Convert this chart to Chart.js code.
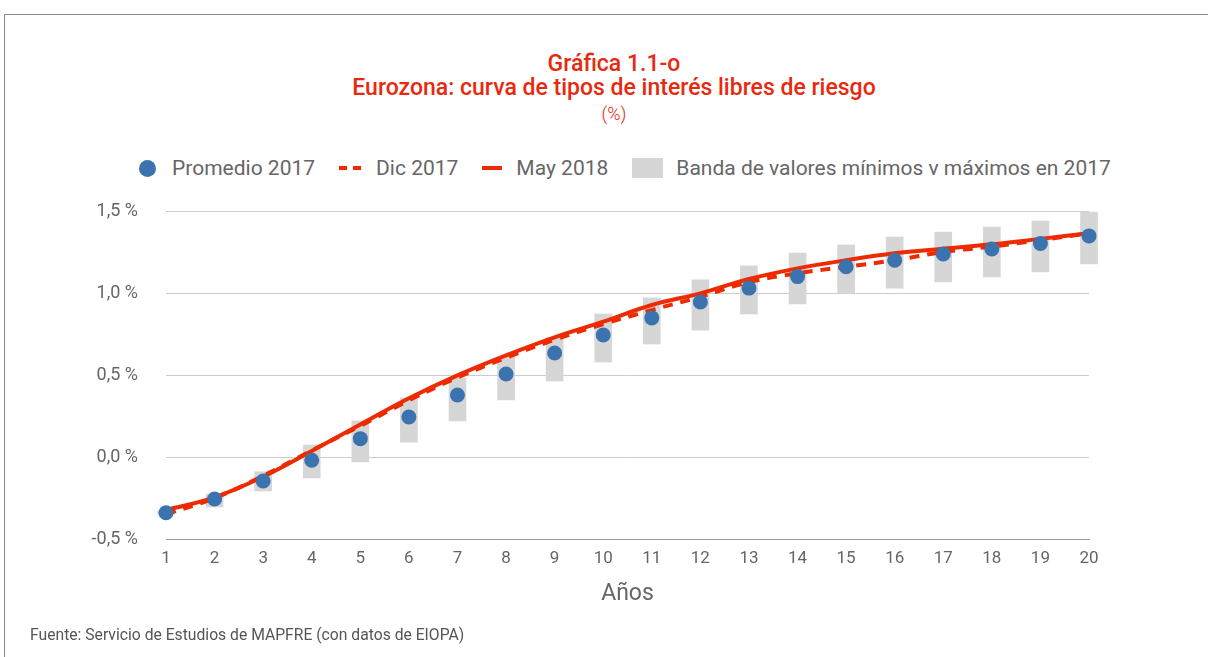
<!DOCTYPE html>
<html>
<head>
<meta charset="utf-8">
<script src="https://cdn.jsdelivr.net/npm/chart.js@4"></script>
<style>
  body { margin: 0; background: #fff; font-family: Roboto, sans-serif; }
  #wrap { position: relative; width: 1208px; height: 657px; overflow: hidden; }
  #frame { position: absolute; left: 4px; top: 14px; width: 1300px; height: 700px;
           border-top: 1px solid #8a8a8a; border-left: 1px solid #8a8a8a; }
  .tit { position: absolute; left: 0; width: 1228px; text-align: center; color: #e8290e; }
  #t1 { top: 50px; font-size: 23px; font-weight: 500; }
  #t2 { top: 74px; font-size: 23px; font-weight: 500; }
  #t3 { top: 103px; font-size: 18px; font-weight: 300; }
  #legend { position: absolute; top: 155px; left: 139px; height: 26px; font-size: 21px; color: #666;
            white-space: nowrap; display: flex; align-items: center; }
  #legend span.it { display: flex; align-items: center; margin-right: 24px; }
  .dot { width: 17px; height: 17px; border-radius: 50%; background: #3b73ae; margin-right: 16px; }
  .dash { width: 22px; height: 0; border-top: 4px dashed #ee2a00; margin-right: 15px; }
  .solid { width: 20px; height: 4px; background: #ee2a00; margin-right: 14px; }
  .box { width: 31px; height: 20px; background: #d6d6d6; margin-right: 13px; }
  #src { position: absolute; left: 30px; top: 625px; font-size: 15.7px; color: #555; }
  #cw { position: absolute; left: 0; top: 0; width: 1208px; height: 657px; }
</style>
</head>
<body>
<div id="wrap">
  <div id="frame"></div>
  <div class="tit" id="t1">Gráfica 1.1-o</div>
  <div class="tit" id="t2">Eurozona: curva de tipos de interés libres de riesgo</div>
  <div class="tit" id="t3">(%)</div>
  <div id="legend">
    <span class="it"><span class="dot"></span>Promedio 2017</span>
    <span class="it"><span class="dash"></span>Dic 2017</span>
    <span class="it"><span class="solid"></span>May 2018</span>
    <span class="it"><span class="box"></span>Banda de valores mínimos v máximos en 2017</span>
  </div>
  <div id="cw"><canvas id="chart"></canvas></div>
  <div id="src">Fuente: Servicio de Estudios de MAPFRE (con datos de EIOPA)</div>
</div>
<script>
// años de la curva
const years = [1, 2, 3, 4, 5, 6, 7, 8, 9, 10, 11, 12, 13, 14, 15, 16, 17, 18, 19, 20];

const promedio2017 = [-0.34, -0.256, -0.146, -0.02, 0.112, 0.244, 0.378, 0.506, 0.634, 0.744,
                      0.848, 0.945, 1.03, 1.10, 1.16, 1.20, 1.238, 1.268, 1.302, 1.348];
const dic2017 = [-0.35, -0.25, -0.115, 0.04, 0.19, 0.345, 0.485, 0.605, 0.715, 0.81,
                 0.896, 0.977, 1.066, 1.12, 1.16, 1.20, 1.25, 1.283, 1.323, 1.364];
const may2018 = [-0.323, -0.246, -0.12, 0.037, 0.198, 0.358, 0.498, 0.62, 0.73, 0.825,
                 0.927, 0.998, 1.085, 1.15, 1.20, 1.242, 1.27, 1.297, 1.33, 1.364];
const bandaMin = [-0.35, -0.305, -0.207, -0.128, -0.03, 0.09, 0.22, 0.348, 0.463, 0.579,
                  0.689, 0.774, 0.872, 0.933, 1.0, 1.03, 1.067, 1.098, 1.128, 1.177];
const bandaMax = [-0.33, -0.226, -0.09, 0.073, 0.22, 0.36, 0.48, 0.61, 0.73, 0.872,
                  0.97, 1.08, 1.165, 1.244, 1.293, 1.341, 1.372, 1.402, 1.439, 1.494];

const yTicks = [-0.5, 0, 0.5, 1.0, 1.5];

const red = '#ee2a00';
const grey = '#666666';

const ctx = document.getElementById('chart').getContext('2d');

new Chart(ctx, {
    type: 'bar',
    data: {
        datasets: [
            {
                type: 'scatter',
                label: 'Promedio 2017',
                data: years.map((x, i) => ({ x: x, y: promedio2017[i] })),
                backgroundColor: '#3b73ae',
                borderColor: '#3b73ae',
                pointRadius: 7.5,
                pointBorderWidth: 0,
                clip: false,
                order: 0
            },
            {
                type: 'line',
                label: 'May 2018',
                data: years.map((x, i) => ({ x: x, y: may2018[i] })),
                borderColor: red,
                borderWidth: 4,
                pointRadius: 0,
                tension: 0.4,
                clip: false,
                order: 1
            },
            {
                type: 'line',
                label: 'Dic 2017',
                data: years.map((x, i) => ({ x: x, y: dic2017[i] })),
                borderColor: red,
                borderWidth: 4,
                borderDash: [10, 8],
                pointRadius: 0,
                tension: 0.4,
                clip: false,
                order: 2
            },
            {
                type: 'bar',
                label: 'Banda de valores mínimos v máximos en 2017',
                data: years.map((x, i) => ({ x: x, y: [bandaMin[i], bandaMax[i]] })),
                backgroundColor: '#d6d6d6',
                barThickness: 17,
                clip: false,
                order: 3
            }
        ]
    },
    options: {
        responsive: true,
        maintainAspectRatio: false,
        animation: false,
        layout: { padding: { top: 211, left: 90, right: 119, bottom: 38 } },
        plugins: { legend: { display: false }, tooltip: { enabled: false } },
        scales: {
            x: {
                type: 'linear',
                offset: false,
                min: 1,
                max: 20,
                afterFit: function (s) { s.height = 80; },
                afterBuildTicks: function (s) { s.ticks = years.map(v => ({ value: v })); },
                grid: { display: false, drawTicks: false },
                border: { display: true, color: '#9a9a9a', dash: [1, 1], width: 1 },
                ticks: {
                    color: grey,
                    padding: 10,
                    maxRotation: 0,
                    autoSkip: false,
                    font: { family: 'Roboto', size: 17 }
                },
                title: {
                    display: true,
                    text: 'Años',
                    color: grey,
                    font: { family: 'Roboto', size: 23 },
                    padding: { top: 0, bottom: 11 }
                }
            },
            y: {
                min: -0.5,
                max: 1.5,
                afterFit: function (s) { s.width = 76; },
                afterBuildTicks: function (s) { s.ticks = yTicks.map(v => ({ value: v })); },
                grid: {
                    drawTicks: false,
                    color: c => (c.tick && c.tick.value === -0.5) ? 'rgba(0,0,0,0)' : '#cccccc'
                },
                border: { display: false },
                ticks: {
                    color: grey,
                    padding: 28,
                    font: { family: 'Roboto', size: 18 },
                    callback: v => v.toFixed(1).replace('.', ',') + ' %'
                }
            }
        }
    }
});
</script>
</body>
</html>
